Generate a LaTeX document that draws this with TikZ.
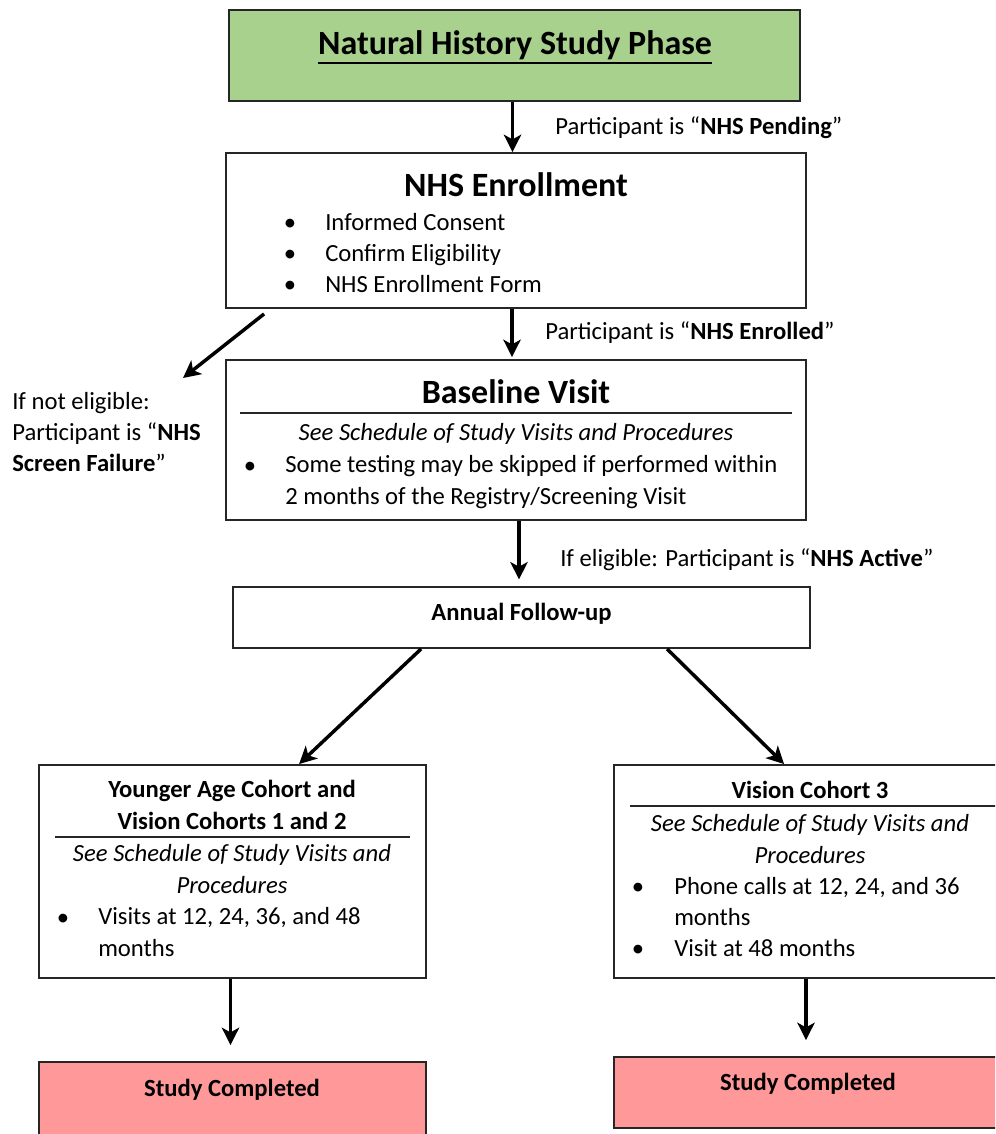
\documentclass[tikz,border=0pt]{standalone}
\usepackage{xcolor}
\usepackage{fontspec}
\usepackage{tikz}
\usetikzlibrary{shapes,arrows.meta,positioning}
\setmainfont{Carlito}

\definecolor{phasegreen}{HTML}{A9D18E}
\definecolor{donered}{HTML}{FF9999}
\newdimen\pxu \pxu=0.75pt
\newcommand{\bodyfont}{\fontsize{18.5}{23.5}\selectfont}
\newcommand{\headfont}{\fontsize{25.5}{30}\selectfont\bfseries}

\begin{document}
\begin{tikzpicture}[x=0.75pt, y=-0.75pt, every node/.style={font=\bodyfont}]
    \tikzstyle{frame} = [rectangle, draw=black!85, line width=1.4pt, inner sep=0pt]
    \tikzstyle{txt} = [inner sep=0pt, anchor=base west, align=left]
    \tikzstyle{ctr} = [inner sep=0pt, anchor=base, align=center]
    \tikzstyle{flow} = [-{Stealth[length=13pt, width=13pt, inset=3.5pt]}, line width=2.6pt]
    \tikzstyle{sep} = [line width=0.9pt, black!85]
    \useasboundingbox (0,0) rectangle (995,1134);
    \clip (0,0) rectangle (995,1134);

    % boxes
    \node (nhs) [frame, fill=phasegreen, minimum width=571\pxu, minimum height=91\pxu] at (514.5,55.5) {};
    \node (enroll) [frame, minimum width=580\pxu, minimum height=155\pxu] at (516,230.5) {};
    \node (base) [frame, minimum width=580\pxu, minimum height=160\pxu] at (516,440) {};
    \node (annual) [frame, minimum width=577\pxu, minimum height=61\pxu, text depth=8pt] at (521.5,617.5) {\textbf{Annual Follow-up}};
    \node (younger) [frame, minimum width=387\pxu, minimum height=213\pxu] at (232.5,871.5) {};
    \node (vision) [frame, minimum width=396\pxu, minimum height=213\pxu] at (812,871.5) {};
    \node (done1) [frame, fill=donered, minimum width=387\pxu, minimum height=88\pxu] at (232.5,1106) {};
    \node (done2) [frame, fill=donered, minimum width=396\pxu, minimum height=71\pxu] at (812,1092.5) {};

    % texts (multi-line nodes sit on their last line)
    \node (phase) [ctr, font=\headfont] at (515,55) {Natural History Study Phase};
    \draw [line width=1.6pt] ([yshift=-6pt]phase.base west) -- ([yshift=-6pt]phase.base east);
    \node (pending) [txt] at (555,135) {Participant is “\textbf{NHS Pending}”};

    \node (enrolltitle) [ctr, font=\headfont] at (516,197) {NHS Enrollment};
    \node (enrolldots) [ctr] at (290,292.7) {\textbullet\\\textbullet\\\textbullet};
    \node (enrollitems) [txt] at (325,292.7) {Informed Consent\\Confirm Eligibility\\NHS Enrollment Form};
    \node (enrolled) [txt] at (545,339) {Participant is “\textbf{NHS Enrolled}”};
    \node (failtext) [txt] at (12,471.7) {If not eligible:\\Participant is “\textbf{NHS}\\\textbf{Screen Failure}”};

    \node (basetitle) [ctr, font=\headfont] at (516,403) {Baseline Visit};
    \draw [sep] (240,413) -- (792,413);
    \node (basesee) [ctr] at (516,440) {\itshape See Schedule of Study Visits and Procedures};
    \node (basedot) [ctr] at (250,473) {\textbullet};
    \node (baseitem) [txt] at (285,504.3) {Some testing may be skipped if performed within\\2 months of the Registry/Screening Visit};
    \node (active) [txt] at (560,566) {If eligible: Participant is “\textbf{NHS Active}”};

    \node (youngertitle) [ctr, font=\bodyfont\bfseries] at (232,829.3) {Younger Age Cohort and\\Vision Cohorts 1 and 2};
    \draw [sep] (55,837) -- (410,837);
    \node (youngersee) [ctr, font=\bodyfont\itshape] at (232,893.3) {See Schedule of Study Visits and\\Procedures};
    \node (youngerdot) [ctr] at (63,925) {\textbullet};
    \node (youngeritem) [txt] at (98,956.3) {Visits at 12, 24, 36, and 48\\months};

    \node (visiontitle) [ctr, font=\bodyfont\bfseries] at (810,798) {Vision Cohort 3};
    \draw [sep] (630,806) -- (1000,806);
    \node (visionsee) [ctr, font=\bodyfont\itshape] at (810,863.3) {See Schedule of Study Visits and\\Procedures};
    \node (visiondots) [ctr] at (638,956.7) {\textbullet\\~\\\textbullet};
    \node (visionitems) [txt] at (674,956.7) {Phone calls at 12, 24, and 36\\months\\Visit at 48 months};

    \node (done1text) [ctr, font=\bodyfont\bfseries] at (232,1096) {Study Completed};
    \node (done2text) [ctr, font=\bodyfont\bfseries] at (808,1090) {Study Completed};

    % arrows
    \coordinate (failend) at (183,378);
    \draw [flow] ([xshift=-2\pxu]nhs.south) -- ([xshift=-2\pxu]nhs.south |- enroll.north);
    \draw [flow] ([xshift=-4\pxu]enroll.south) -- ([xshift=-4\pxu,yshift=1.5pt]enroll.south |- base.north);
    \draw [flow] ([shift={(39,5)}]enroll.south west) -- (failend);
    \draw [flow] ([xshift=3\pxu]base.south) -- ([xshift=3\pxu,yshift=5pt]base.south |- annual.north);
    \draw [flow] ([xshift=189\pxu]annual.south west) -- ([xshift=261\pxu]younger.north west);
    \draw [flow] ([xshift=435\pxu]annual.south west) -- ([xshift=171\pxu]vision.north west);
    \draw [flow] ([xshift=-2\pxu]younger.south) -- ([xshift=-2\pxu,yshift=12pt]done1.north);
    \draw [flow] ([xshift=-6\pxu]vision.south) -- ([xshift=-6\pxu,yshift=12pt]done2.north);
\end{tikzpicture}
\end{document}
